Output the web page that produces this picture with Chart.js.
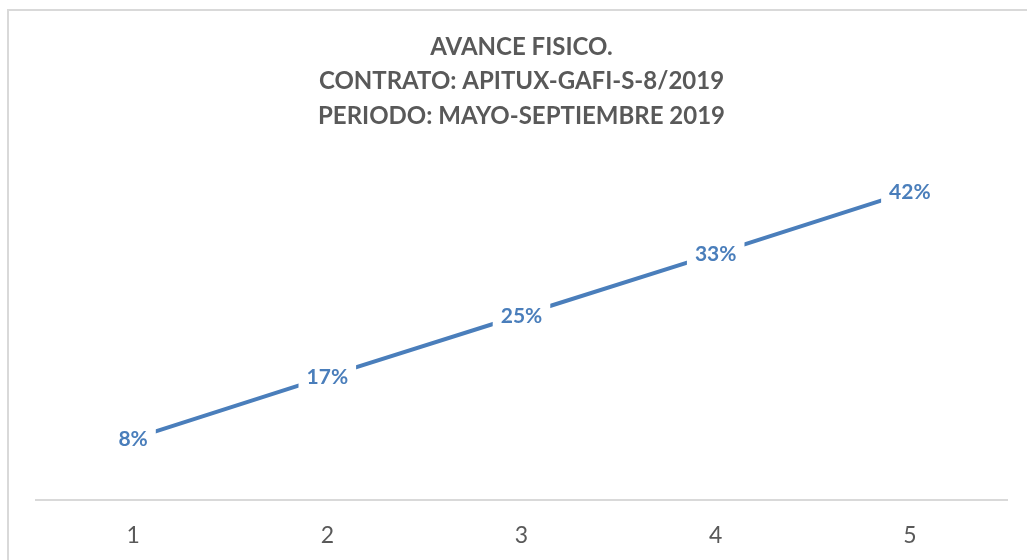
<!DOCTYPE html>
<html><head><meta charset="utf-8">
<script src="https://cdn.jsdelivr.net/npm/chart.js@4/dist/chart.umd.min.js"></script>
<style>
html,body{margin:0;padding:0;background:#fff;overflow:hidden;width:1027px;height:560px;}
#wrap{position:absolute;left:7px;top:9px;border:2px solid #d9d9d9;width:1034px;height:600px;background:#fff;}
canvas{display:block;}
</style></head><body>
<div id="wrap"><canvas id="c" width="1034" height="600"></canvas></div>
<script>
const categories = ['1','2','3','4','5'];
const avance = [0.083, 0.167, 0.25, 0.333, 0.417];
const titleLines = ['AVANCE FISICO.', 'CONTRATO: APITUX-GAFI-S-8/2019', 'PERIODO: MAYO-SEPTIEMBRE 2019'];

const BLUE = '#4a7ebb';
const labelPlugin = {
  id: 'pctLabels',
  afterDatasetsDraw(chart) {
    const ctx = chart.ctx;
    const meta = chart.getDatasetMeta(0);
    ctx.save();
    ctx.font = 'bold 21px Lato';
    ctx.textAlign = 'center';
    ctx.textBaseline = 'middle';
    meta.data.forEach((pt, i) => {
      const txt = Math.round(avance[i] * 100) + '%';
      const w = ctx.measureText(txt).width;
      ctx.fillStyle = '#fff';
      ctx.fillRect(pt.x - w / 2 - 8, pt.y - 13, w + 16, 26);
      ctx.fillStyle = BLUE;
      ctx.fillText(txt, pt.x, pt.y + 1);
    });
    ctx.restore();
  }
};

new Chart(document.getElementById('c'), {
  type: 'line',
  data: {
    labels: categories,
    datasets: [{
      data: avance,
      borderColor: BLUE,
      borderWidth: 4,
      pointRadius: 0,
      tension: 0,
      fill: false
    }]
  },
  options: {
    responsive: false,
    animation: false,
    layout: { padding: { left: 27, right: 36, top: 0, bottom: 0 } },
    plugins: {
      legend: { display: false },
      tooltip: { enabled: false },
      title: {
        display: true,
        text: titleLines,
        color: '#595959',
        font: { family: 'Lato', size: 24, weight: 'bold', lineHeight: 1.4375 },
        padding: { top: 18.75, bottom: 33.75 }
      }
    },
    scales: {
      y: { display: false, min: 0, max: 0.45 },
      x: {
        offset: true,
        grid: { display: false, drawTicks: false },
        border: { display: true, color: '#d9d9d9', width: 2 },
        ticks: { color: '#595959', font: { family: 'Lato', size: 23 }, padding: 22 },
        afterFit(s) { s.height = 111; }
      }
    }
  },
  plugins: [labelPlugin]
});
</script>
</body></html>
